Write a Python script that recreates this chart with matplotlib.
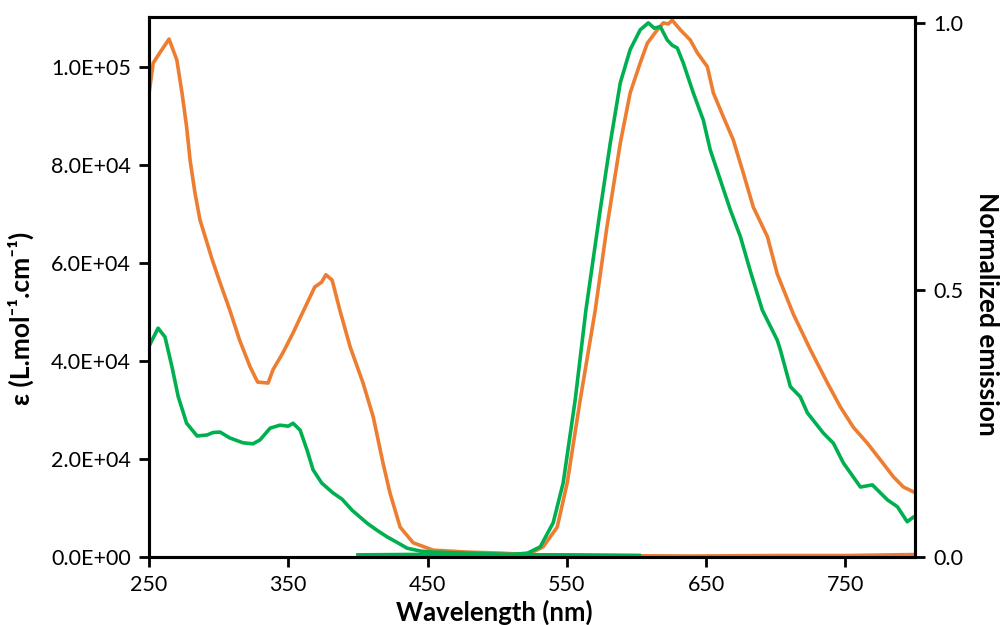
import numpy as np
import matplotlib
matplotlib.use("Agg")
from matplotlib import pyplot as plt
from matplotlib.ticker import FuncFormatter, MultipleLocator

plt.rcParams['font.family'] = ['Lato', 'DejaVu Sans']

orange = "#ED7D31"
green = "#00B050"

# absorption (left axis, L.mol-1.cm-1)
abs_or_x = [250, 253, 258, 264.4, 270, 273.7, 277, 279.5, 283, 286.6, 291.7, 295, 301, 308,
            315, 322.6, 328, 335.5, 339, 346, 353.4, 358.5, 363.5, 369, 374, 377, 381.5, 387,
            394.4, 403.7, 411, 418, 423, 430.3, 439.7, 454, 478.4, 502.2, 521.6, 560, 640,
            700, 750, 800]
abs_or_y = [94500, 100800, 103000, 105700, 101400, 94700, 87800, 81000, 74300, 68800, 64100,
            61000, 56000, 50400, 44300, 38800, 35700, 35500, 38200, 41600, 45700, 48800, 51800,
            55100, 56100, 57600, 56500, 50400, 42900, 35500, 28600, 19200, 13100, 6100, 2900,
            1400, 1000, 800, 500, 300, 200, 300, 300, 500]

abs_gr_x = [250, 256.5, 261.5, 266.5, 271, 277, 284.5, 291.7, 296, 301, 308, 317.5, 324.7,
            329.7, 337, 344, 350, 353.4, 358.5, 363.5, 367.8, 374, 382, 388.6, 396, 406.6,
            414, 421, 428, 435.3, 445, 454, 478, 514, 530]
abs_gr_y = [43000, 46700, 44900, 38800, 32700, 27300, 24700, 24900, 25400, 25500, 24300,
            23300, 23100, 23900, 26300, 26900, 26700, 27300, 25900, 21800, 17800, 15100,
            13100, 11800, 9500, 6900, 5400, 4100, 3000, 1800, 1200, 1000, 800, 500, 300]

# normalized emission (right axis)
em_or_x = [500, 523.7, 533, 543.1, 550.3, 559.6, 570.4, 578.8, 588.4, 595.5, 602.7, 607.8,
           615, 619.3, 622.8, 625.7, 631.5, 638.6, 643.7, 650.9, 655.2, 662.4, 669.5, 676.7,
           683.9, 694, 701.1, 712.6, 724.9, 737.1, 746.4, 755.7, 765.8, 775.1, 784.5, 791.7,
           798.9, 800]
em_or_y = [0.003, 0.007, 0.019, 0.056, 0.139, 0.294, 0.462, 0.618, 0.775, 0.869, 0.925, 0.962,
           0.987, 1.0, 0.998, 1.005, 0.987, 0.968, 0.944, 0.918, 0.869, 0.824, 0.781, 0.719,
           0.655, 0.6, 0.53, 0.455, 0.388, 0.326, 0.281, 0.243, 0.213, 0.182, 0.15, 0.131,
           0.122, 0.12]

em_gr_x = [500, 521.6, 530.9, 540.2, 547.4, 556, 563.7, 574, 581.2, 588.4, 595.5, 602.7,
           608.5, 612.8, 617.1, 622.1, 625.7, 629.3, 633.6, 640.8, 648, 653, 660.2, 667.4,
           674.6, 681.8, 690.4, 701.1, 703.3, 710.5, 717.6, 722.7, 734.2, 741.4, 748.6, 760.8,
           769.4, 780.2, 787.4, 794.4, 798.9, 800]
em_gr_y = [0.003, 0.007, 0.019, 0.064, 0.139, 0.294, 0.462, 0.65, 0.775, 0.888, 0.95, 0.987,
           1.0, 0.99, 0.993, 0.968, 0.958, 0.953, 0.925, 0.869, 0.818, 0.762, 0.706, 0.65,
           0.6, 0.535, 0.462, 0.406, 0.388, 0.319, 0.3, 0.27, 0.232, 0.213, 0.176, 0.131,
           0.135, 0.107, 0.094, 0.066, 0.075, 0.073]

base_gr_x = [400, 450, 500, 550, 602]
base_gr_y = [0.004, 0.005, 0.004, 0.004, 0.003]

fig = plt.figure(figsize=(10.01, 6.25), dpi=100)
ax = fig.add_axes([149/1001, 1-557/625, (915-149)/1001, (557-17)/625])
ax2 = ax.twinx()

lw = 2.6
ax.plot(abs_or_x, abs_or_y, color=orange, lw=lw)
ax.plot(abs_gr_x, abs_gr_y, color=green, lw=lw)
ax2.plot(em_or_x, em_or_y, color=orange, lw=lw)
ax2.plot(base_gr_x, base_gr_y, color=green, lw=lw)
ax2.plot(em_gr_x, em_gr_y, color=green, lw=lw)

ax.set_xlim(250, 800)
ax.set_ylim(0, 110200)
ax2.set_ylim(0, 1.011)
ax.set_xticks([250, 350, 450, 550, 650, 750])
ax.yaxis.set_major_locator(MultipleLocator(20000))
ax.yaxis.set_major_formatter(FuncFormatter(lambda v, p: "{:.1E}".format(v)))
ax2.set_yticks([0.0, 0.5, 1.0])
ax2.yaxis.set_major_formatter(FuncFormatter(lambda v, p: "{:.1f}".format(v)))

for a in (ax, ax2):
    for s in a.spines.values():
        s.set_linewidth(2.2)
    a.tick_params(which='major', direction='out', length=7, width=2, labelsize=15.5,
                  colors='black', pad=6)

fig.text(494/1001, 1-600/625, "Wavelength (nm)", ha='center', va='top',
         fontsize=18.5, fontweight='bold')
fig.text(21/1001, 1-318/625, "ε (L.mol⁻¹.cm⁻¹)", ha='center', va='center',
         rotation=90, fontsize=19, fontweight='bold')
fig.text(987/1001, 1-314/625, "Normalized emission", ha='center', va='center',
         rotation=270, fontsize=19, fontweight='bold')

plt.savefig("out.png", dpi=100)
